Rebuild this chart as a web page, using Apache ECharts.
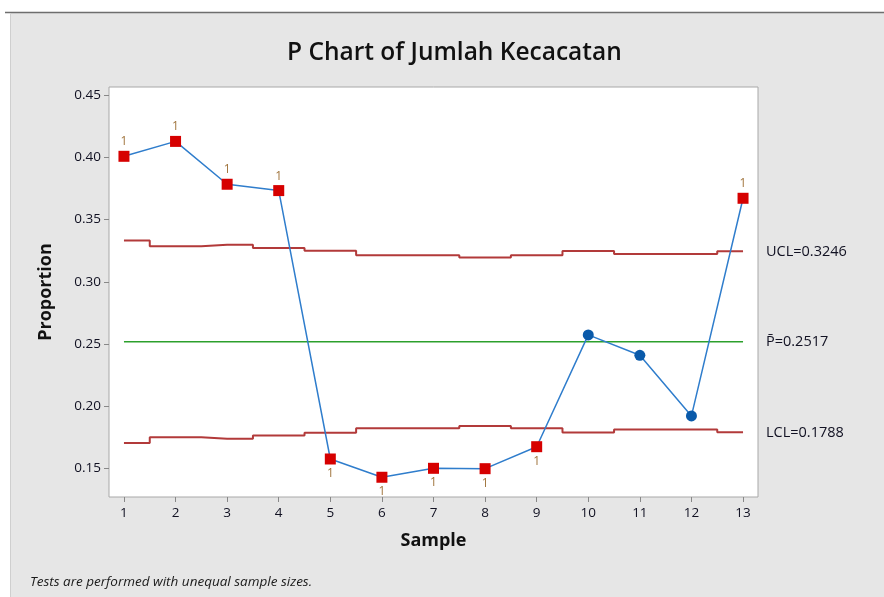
<!DOCTYPE html>
<html>
<head>
<meta charset="utf-8">
<script src="https://cdn.jsdelivr.net/npm/echarts@6/dist/echarts.min.js"></script>
<style>
html,body{margin:0;padding:0;background:#fff;}
#c{width:884px;height:597px;}
</style>
</head>
<body>
<div id="c"></div>
<script>
// ---- data ----
var samples = [1,2,3,4,5,6,7,8,9,10,11,12,13];
var proportions = [0.401,0.413,0.3785,0.3734,0.1573,0.1426,0.1498,0.1495,0.1672,0.2572,0.2408,0.1920,0.3672];
var outOfControl = [1,1,1,1,1,1,1,1,1,0,0,0,1];
var ucl = [0.3332,0.3286,0.3298,0.3272,0.3249,0.3214,0.3214,0.3196,0.3214,0.3247,0.3224,0.3224,0.3246];
var lcl = [0.1702,0.1748,0.1736,0.1762,0.1785,0.1820,0.1820,0.1838,0.1820,0.1787,0.1810,0.1810,0.1788];
var pBar = 0.2517;
var yTicks = [0.15,0.20,0.25,0.30,0.35,0.40,0.45];
var xTicks = samples;
var limitLabels = ["UCL=0.3246","P\u0304=0.2517","LCL=0.1788"];

var FONT = "'Open Sans', 'Noto Sans', sans-serif";
var chart = echarts.init(document.getElementById('c'), null, {renderer:'canvas'});

function pairs(ys){ return samples.map(function(x,i){return [x, ys[i]];}); }

var redPts = [], bluePts = [];
samples.forEach(function(x,i){
  if (outOfControl[i]) {
    var above = proportions[i] > pBar;
    redPts.push({value:[x, proportions[i]], label:{position: above ? 'top' : 'bottom'}});
  } else {
    bluePts.push([x, proportions[i]]);
  }
});

var option = {
  backgroundColor: '#ffffff',
  animation: false,
  title: {
    text: 'P Chart of Jumlah Kecacatan',
    left: 282, top: 36,
    textStyle: {fontFamily: FONT, fontSize: 24.5, fontWeight: 600, color: '#111'}
  },
  grid: {
    left: 109, top: 87, width: 649, height: 410,
    show: true, backgroundColor: '#ffffff', borderColor: '#a8a8a8', borderWidth: 1
  },
  xAxis: {
    type: 'value', min: 0.71, max: 13.29,
    name: 'Sample', nameLocation: 'middle', nameGap: 35,
    nameTextStyle: {fontFamily: FONT, fontSize: 18, fontWeight: 'bold', color: '#111'},
    axisLine: {show: false},
    splitLine: {show: false},
    axisTick: {show: true, inside: false, length: 5, customValues: xTicks, lineStyle: {color: '#888'}},
    axisLabel: {customValues: xTicks, margin: 9, fontFamily: FONT, fontSize: 13.5, color: '#111122'}
  },
  yAxis: {
    type: 'value', min: 0.1267, max: 0.4568,
    name: 'Proportion', nameLocation: 'middle', nameGap: 54, nameRotate: 90,
    nameTextStyle: {fontFamily: FONT, fontSize: 18, fontWeight: 'bold', color: '#111'},
    axisLine: {show: false},
    splitLine: {show: false},
    axisTick: {show: true, length: 5, customValues: yTicks, lineStyle: {color: '#888'}},
    axisLabel: {customValues: yTicks, margin: 8, fontFamily: FONT, fontSize: 13.5, color: '#111122',
      formatter: function(v){ return v.toFixed(2); }}
  },
  series: [
    {type:'line', name:'UCL', data: pairs(ucl), step:'middle', symbol:'none', silent:true, z:2,
     lineStyle:{color:'#b23a3a', width:2}},
    {type:'line', name:'LCL', data: pairs(lcl), step:'middle', symbol:'none', silent:true, z:2,
     lineStyle:{color:'#b23a3a', width:2}},
    {type:'line', name:'Pbar', data: [[samples[0], pBar],[samples[samples.length-1], pBar]], symbol:'none', silent:true, z:2,
     lineStyle:{color:'#2ca02c', width:1.5}},
    {type:'line', name:'P', data: pairs(proportions), symbol:'none', silent:true, z:3,
     lineStyle:{color:'#2f7dcc', width:1.5}},
    {type:'scatter', name:'out', data: redPts, symbol:'rect', symbolSize: 11, silent:true, z:10,
     itemStyle:{color:'#d60000', opacity:1},
     label:{show:true, formatter:'1', distance:3, fontFamily: FONT, fontSize: 12, color:'#a0743c'}},
    {type:'scatter', name:'in', data: bluePts, symbol:'circle', symbolSize: 11, silent:true, z:10,
     itemStyle:{color:'#0a5aaa', opacity:1}}
  ]
};
chart.setOption(option);

var limitVals = [ucl[ucl.length-1], pBar, lcl[lcl.length-1]];
var lastX = samples[samples.length-1];
var texts = limitVals.map(function(v, i){
  var p = chart.convertToPixel({gridIndex:0}, [lastX, v]);
  return {type:'text', left: 766, top: p[1] - 7,
    style:{text: limitLabels[i], fontFamily: FONT, fontSize: 14.5, fill:'#111122'}};
});

chart.setOption({
  graphic: [
    {type:'rect', z:-10, silent:true, shape:{x:10, y:12, width:874, height:585}, style:{fill:'#e6e6e6'}},
    {type:'line', z:-9, silent:true, shape:{x1:5, y1:12.5, x2:884, y2:12.5}, style:{stroke:'#6e6e6e', lineWidth:1.5}},
    {type:'line', z:-9, silent:true, shape:{x1:10.5, y1:13, x2:10.5, y2:597}, style:{stroke:'#cfcfcf', lineWidth:1}},
    {type:'text', left: 30, top: 575,
     style:{text:'Tests are performed with unequal sample sizes.', fontFamily: FONT, fontSize: 13.5, fontStyle:'italic', fill:'#1a1a1a'}}
  ].concat(texts)
});
</script>
</body>
</html>
